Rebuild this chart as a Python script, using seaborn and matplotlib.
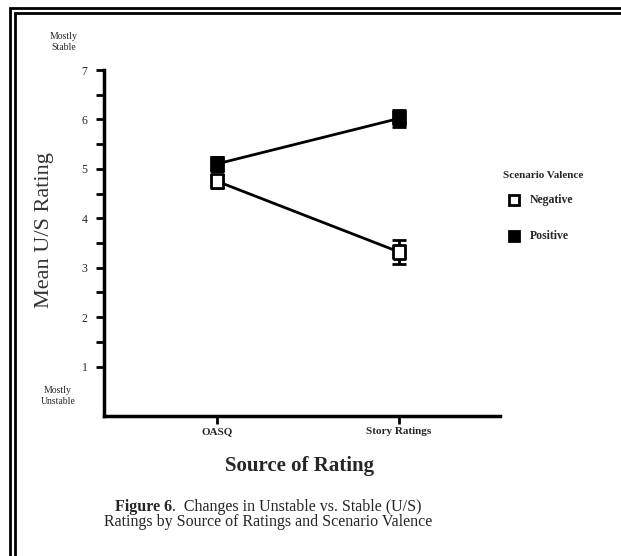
import matplotlib
matplotlib.use("Agg")
import matplotlib.pyplot as plt
import pandas as pd
import seaborn as sns
from matplotlib.patches import Rectangle
from matplotlib.lines import Line2D

# --- dados ---
fontes = ["OASQ", "Story Ratings"]
valencias = ["Negative", "Positive"]
media_negativa = [4.75, 3.32]
media_positiva = [5.10, 6.02]
erro_negativo = [0.13, 0.24]
erro_positivo = [0.15, 0.18]

sns.set_theme(style="white")
plt.rcParams["font.family"] = ["Liberation Serif", "DejaVu Serif"]

df = pd.DataFrame({
    "fonte": [0, 1, 0, 1],
    "media": media_negativa + media_positiva,
    "valencia": [valencias[0]] * 2 + [valencias[1]] * 2,
})

# marcador retangular (um pouco mais alto que largo)
retangulo = [(-0.85, -1), (0.85, -1), (0.85, 1), (-0.85, 1), (-0.85, -1)]

fig = plt.figure(figsize=(6.21, 5.56), dpi=100)
ax = fig.add_axes([104 / 621, 1 - 416 / 556, 396 / 621, 346 / 556])

# linhas com seaborn
sns.lineplot(data=df, x="fonte", y="media", hue="valencia",
             palette={"Negative": "black", "Positive": "black"},
             lw=2, legend=False, ax=ax, zorder=2)

# barras de erro e marcadores
for medias, erros, face in [(media_negativa, erro_negativo, "white"),
                            (media_positiva, erro_positivo, "black")]:
    ax.errorbar([0, 1], medias, yerr=erros, fmt="none", ecolor="black",
                elinewidth=2, capsize=5, capthick=2, zorder=3)
    ax.plot([0, 1], medias, ls="none", marker=retangulo, ms=10, mfc=face,
            mec="black", mew=2, zorder=4)

ax.set_xlim(-0.62, 1.555)
ax.set_ylim(0, 7)
ax.set_xticks([0, 1])
ax.set_xticklabels(fontes, fontsize=8, fontweight="bold")
ax.set_yticks(range(1, 8))
ax.set_yticklabels([str(i) for i in range(1, 8)], fontsize=8.5)
ax.set_yticks([i + 0.5 for i in range(1, 7)], minor=True)
ax.tick_params(axis="both", which="both", direction="out", length=6,
               width=2, color="black", left=True, bottom=True, pad=6)
ax.tick_params(axis="x", pad=2)
for lado in ["top", "right"]:
    ax.spines[lado].set_visible(False)
for lado in ["left", "bottom"]:
    ax.spines[lado].set_linewidth(2.5)
    ax.spines[lado].set_color("black")

ax.set_xlabel("")
ax.set_ylabel("")

# textos
fig.text(45 / 621, 1 - 230 / 556, "Mean U/S Rating", rotation=90,
         ha="center", va="center", fontsize=16, color="#333333")
fig.text(64 / 621, 1 - 42 / 556, "Mostly\nStable", ha="center",
         va="center", fontsize=7, linespacing=1.3)
fig.text(58 / 621, 1 - 396 / 556, "Mostly\nUnstable", ha="center",
         va="center", fontsize=7, linespacing=1.3)
fig.text(300 / 621, 1 - 466 / 556, "Source of Rating", ha="center",
         va="center", fontsize=15, fontweight="bold")

# legenda da figura: parte em negrito + resto normal, centralizado
renderer = fig.canvas.get_renderer()
parte_negrito = fig.text(0, 1 - 507 / 556, "Figure 6", ha="left",
                         va="center", fontsize=11.5, fontweight="bold")
resto = fig.text(0, 1 - 507 / 556, ".  Changes in Unstable vs. Stable (U/S)",
                 ha="left", va="center", fontsize=11.5)
largura_b = parte_negrito.get_window_extent(renderer).width
largura_r = resto.get_window_extent(renderer).width
inicio = 268 - (largura_b + largura_r) / 2
parte_negrito.set_x(inicio / 621)
resto.set_x((inicio + largura_b) / 621)
fig.text(268 / 621, 1 - 522 / 556,
         "Ratings by Source of Ratings and Scenario Valence",
         ha="center", va="center", fontsize=11.5)

# legenda
fig.text(543 / 621, 1 - 176 / 556, "Scenario Valence", ha="center",
         va="center", fontsize=8, fontweight="bold")
for y_px, face, rotulo in [(200, "white", "Negative"), (236, "black", "Positive")]:
    fig.lines.append(Line2D([514 / 621], [1 - y_px / 556], marker="s",
                            ms=7, mfc=face, mec="black", mew=2,
                            transform=fig.transFigure))
    fig.text(530 / 621, 1 - y_px / 556, rotulo, ha="left", va="center",
             fontsize=8.5, fontweight="bold")

# moldura dupla
for x_px, y_px in [(9.5, 7.5), (14.5, 13)]:
    x0 = x_px / 621
    topo = 1 - y_px / 556
    fig.patches.append(Rectangle((x0, -0.1), 1.2, topo + 0.1, fill=False,
                                 lw=2, ec="black", transform=fig.transFigure))

fig.savefig("out.png", dpi=100)
